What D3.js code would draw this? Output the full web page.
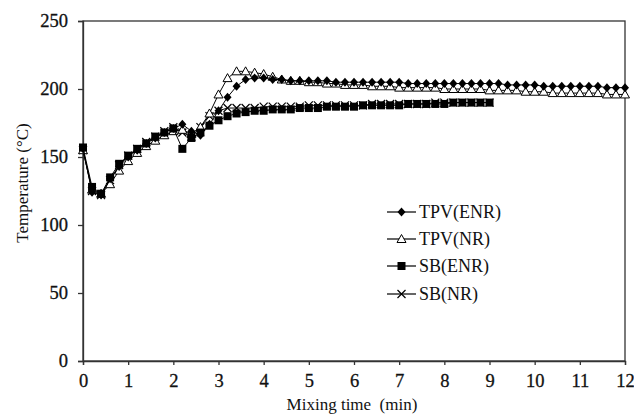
<!DOCTYPE html>
<html><head><meta charset="utf-8">
<script src="https://cdn.jsdelivr.net/npm/d3@7"></script>
<style>body{margin:0;background:#fff}svg{display:block}svg text{font-family:"Liberation Serif","Times New Roman","DejaVu Serif",serif !important}</style>
</head><body>
<script>
const timesTPV = [0,0.2,0.4,0.6,0.8,1,1.2,1.4,1.6,1.8,2,2.2,2.4,2.6,2.8,3,3.2,3.4,3.6,3.8,4,4.2,4.4,4.6,4.8,5,5.2,5.4,5.6,5.8,6,6.2,6.4,6.6,6.8,7,7.2,7.4,7.6,7.8,8,8.2,8.4,8.6,8.8,9,9.2,9.4,9.6,9.8,10,10.2,10.4,10.6,10.8,11,11.2,11.4,11.6,11.8,12];
const timesSB = [0,0.2,0.4,0.6,0.8,1,1.2,1.4,1.6,1.8,2,2.2,2.4,2.6,2.8,3,3.2,3.4,3.6,3.8,4,4.2,4.4,4.6,4.8,5,5.2,5.4,5.6,5.8,6,6.2,6.4,6.6,6.8,7,7.2,7.4,7.6,7.8,8,8.2,8.4,8.6,8.8,9];
const tpvENR = [156,124,122,134,143,150,155,160,164,168,171,174,169,166,174,184,194,202,207,208,208,207,207,206,206,206,206,206,205,205,205,205,205,205,205,205,204,204,204,204,204,204,204,204,204,204,204,203,203,203,203,202,202,202,202,202,202,202,201,201,201];
const tpvNR = [155,126,123,130,140,147,153,158,162,166,169,170,167,172,182,196,208,213,213,212,211,209,207,206,206,205,205,204,204,203,203,203,202,202,202,201,201,201,201,201,200,200,200,200,200,199,199,199,199,198,198,198,197,197,197,197,197,197,196,196,196];
const sbENR = [157,128,123,135,145,151,156,160,165,168,171,156,164,168,173,177,180,182,183,184,184,185,185,185,186,186,186,187,187,187,187,188,188,188,188,188,189,189,189,189,189,190,190,190,190,190];
const sbNR = [155,125,122,133,144,151,156,161,165,169,172,168,165,172,180,184,186,186,186,186,187,187,187,187,187,188,188,188,188,188,188,188,189,189,189,189,189,189,189,190,190,190,190,190,190,190];
const seriesNames = ["TPV(ENR)","TPV(NR)","SB(ENR)","SB(NR)"];
const xTicks = [0,1,2,3,4,5,6,7,8,9,10,11,12];
const yTicks = [0,50,100,150,200,250];

const W=634,H=416, m={l:83,r:9,t:21,b:55};
const svg=d3.select("body").append("svg").attr("width",W).attr("height",H);
const x=d3.scaleLinear().domain([0,12]).range([m.l,W-m.r]);
const y=d3.scaleLinear().domain([0,250]).range([H-m.b,m.t]);

svg.append("rect").attr("x",m.l).attr("y",m.t).attr("width",W-m.r-m.l).attr("height",H-m.b-m.t)
  .attr("fill","none").attr("stroke","#333").attr("stroke-width",1.3);

const xa=svg.append("g").attr("transform",`translate(0,${H-m.b})`)
  .call(d3.axisBottom(x).tickValues(xTicks).tickSize(4).tickPadding(9).tickFormat(d3.format("d")));
const ya=svg.append("g").attr("transform",`translate(${m.l},0)`)
  .call(d3.axisLeft(y).tickValues(yTicks).tickSize(5).tickPadding(10));
[xa,ya].forEach(a=>{
  a.select(".domain").attr("stroke","#333").attr("stroke-width",1.3);
  a.selectAll(".tick line").attr("stroke","#333").attr("stroke-width",1.3);
  a.selectAll("text").style("font-size","18.5px").attr("fill","#111")
    .attr("stroke","#111").attr("stroke-width",0.3);
});

svg.append("text").attr("x",352).attr("y",410).attr("text-anchor","middle")
  .style("font-size","17px").attr("fill","#111").attr("xml:space","preserve").text("Mixing time  (min)");
svg.append("text").attr("transform","translate(28,183) rotate(-90)").attr("text-anchor","middle")
  .style("font-size","17px").attr("fill","#111").text("Temperature (\u00B0C)");

const data=[
  {name:seriesNames[0],t:timesTPV,v:tpvENR,sym:"diamond"},
  {name:seriesNames[1],t:timesTPV,v:tpvNR,sym:"triangle"},
  {name:seriesNames[2],t:timesSB,v:sbENR,sym:"square"},
  {name:seriesNames[3],t:timesSB,v:sbNR,sym:"cross"}
];
function marker(g,sym,cx,cy){
  if(sym==="diamond") g.append("path").attr("d",`M${cx},${cy-4.5}L${cx+4},${cy}L${cx},${cy+4.5}L${cx-4},${cy}Z`).attr("fill","#000");
  else if(sym==="triangle") g.append("path").attr("d",`M${cx},${cy-4.5}L${cx+4.5},${cy+3.5}L${cx-4.5},${cy+3.5}Z`).attr("fill","#fff").attr("stroke","#000").attr("stroke-width",1);
  else if(sym==="square") g.append("rect").attr("x",cx-4).attr("y",cy-4).attr("width",8).attr("height",8).attr("fill","#000");
  else g.append("path").attr("d",`M${cx-4},${cy-4}L${cx+4},${cy+4}M${cx-4},${cy+4}L${cx+4},${cy-4}`).attr("stroke","#000").attr("stroke-width",1.2);
}
const line=d3.line().x(d=>x(d[0])).y(d=>y(d[1]));
const order=[3,1,2,0];
order.forEach(i=>{
  const s=data[i];
  const pts=s.t.map((t,j)=>[t,s.v[j]]);
  const g=svg.append("g");
  g.append("path").attr("d",line(pts)).attr("fill","none").attr("stroke","#000").attr("stroke-width",1);
  pts.forEach(p=>marker(g,s.sym,x(p[0]),y(p[1])));
});

const ly=[212,239,266,294];
data.forEach((s,i)=>{
  const g=svg.append("g");
  g.append("line").attr("x1",387).attr("x2",416).attr("y1",ly[i]).attr("y2",ly[i]).attr("stroke","#000").attr("stroke-width",1.2);
  marker(g,s.sym,401.5,ly[i]);
  g.append("text").attr("x",419).attr("y",ly[i]).attr("dy","0.35em").style("font-size","18px").attr("fill","#111").text(s.name);
});
</script>
</body></html>
